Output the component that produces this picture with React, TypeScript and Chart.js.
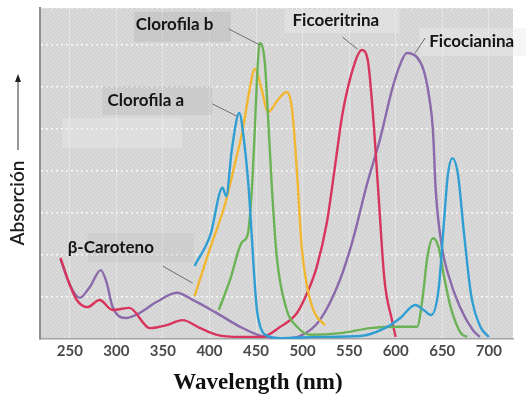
import React, { useEffect, useRef } from "react";
import { Chart, registerables } from "chart.js";

Chart.register(...registerables);

// ---------- data ----------
const xTicks = [250, 300, 350, 400, 450, 500, 550, 600, 650, 700];

const chlAWl = [384, 401, 414, 418, 424, 432, 437, 442, 445, 448, 451, 456, 463, 476, 519, 562, 591, 605, 621, 630, 638, 646, 652, 656, 661, 667, 673, 681, 691, 700];
const chlAAbs = [1.74, 2.48, 3.6, 3.4, 4.5, 5.38, 4.74, 3.62, 2.6, 1.52, 0.69, 0.21, 0.07, 0.02, 0.05, 0.07, 0.29, 0.5, 0.81, 0.69, 0.57, 1.17, 2.83, 3.9, 4.3, 3.9, 2.6, 1.05, 0.29, 0.05];

const chlBWl = [410, 422, 435, 441, 445.5, 448.7, 451, 454, 459.5, 462.7, 467, 472.3, 483, 494, 508, 541, 573, 605, 623, 629, 634, 640, 646, 652, 659, 670, 677];
const chlBAbs = [0.69, 1.4, 2.31, 2.48, 3.55, 4.98, 6.17, 7.05, 6.57, 5.38, 3.62, 1.95, 0.69, 0.29, 0.1, 0.14, 0.26, 0.29, 0.29, 1.0, 1.95, 2.4, 2.19, 1.48, 0.76, 0.14, 0.05];

const carWl = [384, 400, 416.5, 427, 436, 443, 448.7, 456, 462.7, 473.4, 483, 488.4, 491.6, 495, 499, 505.6, 513, 524];
const carAbs = [1.02, 2.12, 3.19, 4.14, 5.02, 5.93, 6.43, 5.95, 5.4, 5.69, 5.88, 5.52, 4.74, 3.62, 2.19, 1.17, 0.62, 0.33];

const ficoeWl = [240, 250, 257.5, 269, 282, 296, 314, 336, 354, 371, 390, 408, 433, 456, 476, 494, 505, 515, 526, 535, 543, 556, 563.6, 570, 575.5, 581, 588, 596, 600];
const ficoeAbs = [1.93, 1.29, 0.93, 0.76, 0.93, 0.69, 0.74, 0.26, 0.33, 0.45, 0.26, 0.1, 0.05, 0.05, 0.29, 0.62, 1.1, 1.7, 2.76, 4.14, 5.38, 6.57, 6.88, 6.64, 5.38, 3.62, 1.4, 0.45, 0.05];

const ficocWl = [240, 250, 260.7, 271.5, 283.3, 289.7, 296, 311, 325, 343, 365, 382, 406, 433, 456, 481, 497, 518.5, 540, 554, 569, 583, 596, 604.5, 612, 622.7, 630, 635.6, 640, 643, 649.6, 656, 669, 683, 690.4];
const ficocAbs = [1.9, 1.29, 0.98, 1.24, 1.64, 1.33, 0.76, 0.5, 0.62, 0.88, 1.1, 0.93, 0.64, 0.29, 0.07, 0.02, 0.07, 0.45, 1.4, 2.36, 3.67, 4.74, 5.93, 6.52, 6.81, 6.71, 6.4, 5.81, 4.98, 3.55, 2.19, 1.57, 0.76, 0.21, 0.05];

const labelTexts = ["Clorofila b", "Clorofila a", "Ficoeritrina", "Ficocianina", "β-Caroteno"];
const labelAnchorWl = [454, 429, 559, 621, 382];
const labelAnchorAbs = [7.0, 5.31, 6.9, 6.81, 1.33];

const xTitle = "Wavelength (nm)";
const yTitle = "Absorción";

// ---------- layout for labels (pixel offsets from anchor) ----------
const labelLayout = [
  { ptr: [-31, -16], text: [-124, -20], box: [-126, -33, 97, 30], boxColor: "rgba(170,170,170,0.3)" },
  { ptr: [-24, -12], text: [-129, -15], box: [-134, -30, 110, 29], boxColor: "rgba(170,170,170,0.25)" },
  { ptr: [-15, -12], text: [-65, -29], box: [-73, -40, 115, 24], boxColor: "rgba(235,235,235,0.45)" },
  { ptr: [10, -15], text: [14, -11], box: [4, -25, 110, 28], boxColor: "rgba(235,235,235,0.45)" },
  { ptr: [-30, -17], text: [-125, -36], box: [-105, -50, 106, 29], boxColor: "rgba(190,190,190,0.3)" },
];

let patternCache: CanvasPattern | null = null;
function getPattern(ctx: CanvasRenderingContext2D) {
  if (patternCache) return patternCache;
  const c = document.createElement("canvas");
  c.width = 4;
  c.height = 4;
  const p = c.getContext("2d")!;
  p.fillStyle = "#d6d6d6";
  p.fillRect(0, 0, 4, 4);
  p.fillStyle = "#e3e3e3";
  p.fillRect(0, 0, 1, 1);
  p.fillRect(2, 2, 1, 1);
  p.fillStyle = "#cecece";
  p.fillRect(2, 0, 1, 1);
  p.fillRect(0, 2, 1, 1);
  patternCache = ctx.createPattern(c, "repeat");
  return patternCache!;
}

const decorPlugin = {
  id: "decor",
  beforeDraw(chart: any) {
    const { ctx, chartArea: a } = chart;
    ctx.save();
    ctx.fillStyle = "#ffffff";
    ctx.fillRect(0, 0, chart.width, chart.height);
    ctx.fillStyle = getPattern(ctx);
    ctx.fillRect(a.left, a.top, a.right - a.left, a.bottom - a.top);
    ctx.restore();
  },
  beforeDatasetsDraw(chart: any) {
    const { ctx, scales } = chart;
    ctx.save();
    labelTexts.forEach((_, i) => {
      const ax = scales.x.getPixelForValue(labelAnchorWl[i]);
      const ay = scales.y.getPixelForValue(labelAnchorAbs[i]);
      const L = labelLayout[i];
      ctx.fillStyle = L.boxColor;
      ctx.fillRect(ax + L.box[0], ay + L.box[1], L.box[2], L.box[3]);
    });
    const ax = scales.x.getPixelForValue(labelAnchorWl[1]);
    const ay = scales.y.getPixelForValue(labelAnchorAbs[1]);
    ctx.fillStyle = "rgba(235,235,235,0.4)";
    ctx.fillRect(ax - 174, ay + 2, 120, 30);
    ctx.restore();
  },
  afterDatasetsDraw(chart: any) {
    const { ctx, chartArea: a, scales } = chart;
    ctx.save();
    labelTexts.forEach((t, i) => {
      const ax = scales.x.getPixelForValue(labelAnchorWl[i]);
      const ay = scales.y.getPixelForValue(labelAnchorAbs[i]);
      const L = labelLayout[i];
      ctx.strokeStyle = "#6f6f6f";
      ctx.lineWidth = 1;
      ctx.beginPath();
      ctx.moveTo(ax + L.ptr[0], ay + L.ptr[1]);
      ctx.lineTo(ax, ay);
      ctx.stroke();
      ctx.fillStyle = "#151515";
      ctx.font = "bold 17px Lato";
      ctx.textAlign = "left";
      ctx.textBaseline = "middle";
      ctx.fillText(t, ax + L.text[0], ay + L.text[1]);
    });
    // y title with arrow
    const cx = a.left - 22;
    ctx.fillStyle = "#1e1e1e";
    ctx.font = "600 19px Lato";
    ctx.textAlign = "center";
    ctx.textBaseline = "middle";
    ctx.save();
    ctx.translate(cx, 203);
    ctx.rotate(-Math.PI / 2);
    ctx.fillText(yTitle, 0, 0);
    ctx.restore();
    ctx.strokeStyle = "#333";
    ctx.lineWidth = 1;
    ctx.beginPath();
    ctx.moveTo(cx, 150);
    ctx.lineTo(cx, 80);
    ctx.stroke();
    ctx.beginPath();
    ctx.moveTo(cx, 74);
    ctx.lineTo(cx - 3, 82);
    ctx.lineTo(cx + 3, 82);
    ctx.closePath();
    ctx.fill();
    // x title
    ctx.fillStyle = "#111";
    ctx.font = "bold 23px 'Liberation Serif'";
    ctx.textAlign = "center";
    ctx.textBaseline = "alphabetic";
    ctx.fillText(xTitle, a.left + 218, 389);
    ctx.restore();
  },
};

function mk(label: string, xs: number[], ys: number[], color: string) {
  return {
    label,
    data: xs.map((x, i) => ({ x, y: ys[i] })),
    borderColor: color,
    backgroundColor: color,
    borderWidth: 2.4,
    pointRadius: 0,
    fill: false,
    cubicInterpolationMode: "monotone" as const,
  };
}

export default function App() {
  const ref = useRef<HTMLCanvasElement>(null);
  useEffect(() => {
    if (!ref.current) return;
    const chart = new Chart(ref.current, {
      type: "line",
      data: {
        datasets: [
          mk("Clorofila a", chlAWl, chlAAbs, "#2f9fd3"),
          mk("Clorofila b", chlBWl, chlBAbs, "#6cb256"),
          mk("Carotenoide", carWl, carAbs, "#f2b731"),
          mk("Ficoeritrina", ficoeWl, ficoeAbs, "#d8355c"),
          mk("Ficocianina", ficocWl, ficocAbs, "#8b6aab"),
        ],
      },
      options: {
        responsive: false,
        animation: false,
        devicePixelRatio: 1,
        layout: { padding: { left: 40, top: 8, right: 13, bottom: 0 } },
        plugins: { legend: { display: false }, tooltip: { enabled: false } },
        scales: {
          x: {
            type: "linear",
            min: 218,
            max: 726,
            afterBuildTicks: (s: any) => {
              s.ticks = xTicks.map((v) => ({ value: v }));
            },
            afterFit: (s: any) => {
              s.height = 55;
            },
            grid: { color: "rgba(255,255,255,0.35)", lineWidth: 1, drawTicks: false },
            border: { display: true, color: "#a3a3a3", width: 1.5 },
            ticks: {
              color: "#4a4a4a",
              font: { family: "Lato", size: 15, weight: "bold" },
              padding: 3,
              maxRotation: 0,
            },
          },
          y: {
            type: "linear",
            min: 0,
            max: 7.88,
            ticks: { display: false, stepSize: 1 },
            afterFit: (s: any) => {
              s.width = 0;
            },
            grid: { color: "rgba(255,255,255,0.85)", lineWidth: 1.5, drawTicks: false },
            border: { display: true, color: "#8f8f8f", width: 2, dash: [2, 3] },
          },
        },
      },
      plugins: [decorPlugin],
    });
    return () => chart.destroy();
  }, []);
  return (
    <div style={{ position: "absolute", left: 0, top: 0, width: 526, height: 394, background: "#fff" }}>
      <canvas ref={ref} width={526} height={394} style={{ display: "block" }} />
    </div>
  );
}
